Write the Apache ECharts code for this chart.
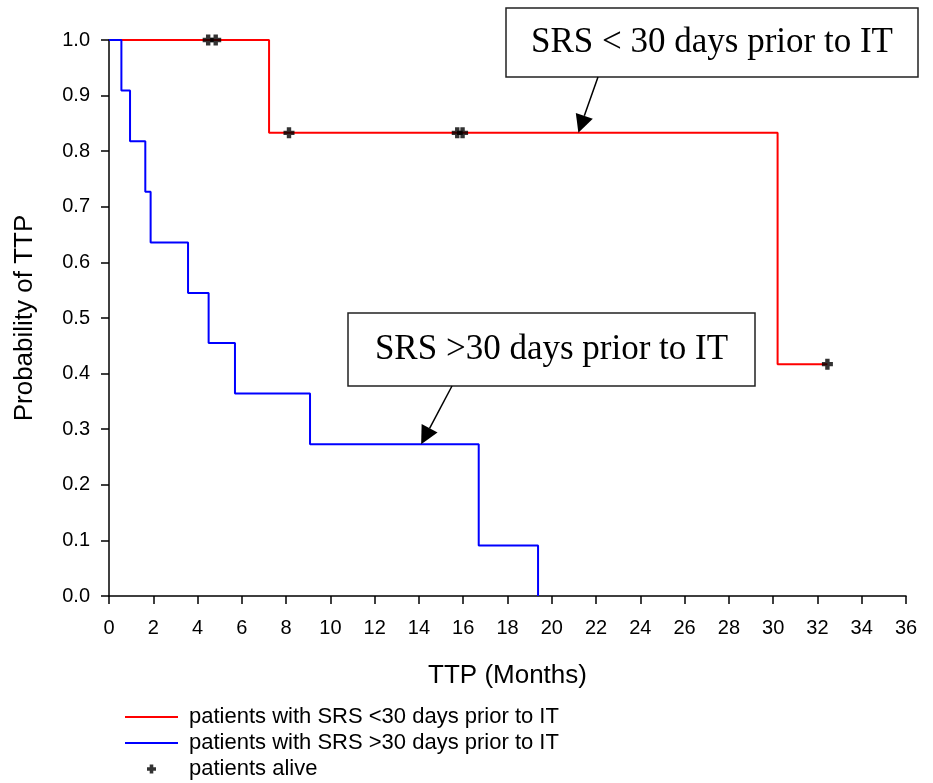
<!DOCTYPE html>
<html>
<head>
<meta charset="utf-8">
<style>
  html, body { margin: 0; padding: 0; background: #fff; }
  #chart { width: 933px; height: 783px; }
</style>
<script src="https://cdn.jsdelivr.net/npm/echarts@6/dist/echarts.min.js"></script>
</head>
<body>
<div id="chart"></div>
<script>
// Kaplan-Meier steps: [month, probability]
const earlySteps = [[0, 1], [7.23, 0.833], [30.2, 0.417], [32.45, 0.417]]
const lateSteps = [
  [0, 1], [0.56, 0.909], [0.95, 0.818], [1.64, 0.727], [1.88, 0.636],
  [3.57, 0.545], [4.5, 0.455], [5.69, 0.364], [9.08, 0.273],
  [16.7, 0.091], [19.38, 0],
]
const aliveMarks = [[4.48, 1], [4.82, 1], [8.13, 0.833], [15.73, 0.833], [15.97, 0.833], [32.45, 0.417]]
const xTicks = { min: 0, max: 36, interval: 2 }
const yTicks = { min: 0, max: 1, interval: 0.1 }
const noteEarly = 'SRS < 30 days prior to IT'
const noteLate = 'SRS >30 days prior to IT'
const noteEarlyTarget = [21.2, 0.833]
const noteLateTarget = [14.1, 0.273]

const FONT = '"Liberation Sans", Arial, sans-serif'
const SERIF = '"Liberation Serif", "Times New Roman", serif'
const plusIcon = 'path://M3,0H7V3H10V7H7V10H3V7H0V3H3Z'

const chart = echarts.init(document.getElementById('chart'))

const axisCommon = {
  axisLine: { show: true, onZero: false, lineStyle: { color: '#000', width: 1.5 } },
  axisTick: { show: true, length: 8, lineStyle: { color: '#000', width: 1.5 } },
  splitLine: { show: false },
  nameTextStyle: { color: '#000', fontFamily: FONT, fontSize: 26 },
}

chart.setOption({
  animation: false,
  backgroundColor: '#fff',
  grid: { left: 109, right: 27, top: 40, bottom: 187, outerBoundsMode: 'none', containLabel: false },
  xAxis: {
    type: 'value',
    ...xTicks,
    ...axisCommon,
    name: 'TTP (Months)',
    nameLocation: 'middle',
    nameGap: 67,
    axisLabel: { color: '#000', fontFamily: FONT, fontSize: 20, margin: 22 },
  },
  yAxis: {
    type: 'value',
    ...yTicks,
    ...axisCommon,
    name: 'Probability of TTP',
    nameLocation: 'middle',
    nameGap: 71,
    axisLabel: {
      color: '#000', fontFamily: FONT, fontSize: 20, margin: 19,
      formatter: (v) => v.toFixed(1),
    },
  },
  legend: {
    orient: 'vertical',
    left: 124,
    top: 704,
    padding: 0,
    itemWidth: 53,
    itemHeight: 9,
    itemGap: 0,
    textStyle: { color: '#000', fontFamily: FONT, fontSize: 22, lineHeight: 26, padding: [0, 0, 0, 6] },
    data: [
      { name: 'patients with SRS <30 days prior to IT', itemStyle: { opacity: 0 } },
      { name: 'patients with SRS >30 days prior to IT', itemStyle: { opacity: 0 } },
      { name: 'patients alive' },
    ],
  },
  series: [
    {
      name: 'patients with SRS <30 days prior to IT',
      type: 'line',
      step: 'end',
      symbol: 'none',
      data: earlySteps,
      lineStyle: { color: '#ff0000', width: 2 },
      itemStyle: { color: '#ff0000' },
      z: 2,
    },
    {
      name: 'patients with SRS >30 days prior to IT',
      type: 'line',
      step: 'end',
      symbol: 'none',
      data: lateSteps,
      lineStyle: { color: '#0000ff', width: 2 },
      itemStyle: { color: '#0000ff' },
      z: 3,
    },
    {
      name: 'patients alive',
      type: 'scatter',
      symbol: plusIcon,
      symbolSize: 11,
      data: aliveMarks,
      itemStyle: { color: '#000' },
      z: 5,
    },
  ],
})

// annotation boxes with arrows pointing at the curves
function arrow(from, to) {
  const dx = to[0] - from[0], dy = to[1] - from[1]
  const len = Math.sqrt(dx * dx + dy * dy)
  const ux = dx / len, uy = dy / len
  const head = 18, half = 9
  const bx = to[0] - ux * head, by = to[1] - uy * head
  return [
    {
      type: 'line',
      shape: { x1: from[0], y1: from[1], x2: bx, y2: by },
      style: { stroke: '#000', lineWidth: 1.5 },
      z: 20,
    },
    {
      type: 'polygon',
      shape: { points: [to, [bx - uy * half, by + ux * half], [bx + uy * half, by - ux * half]] },
      style: { fill: '#000' },
      z: 20,
    },
  ]
}

function noteBox(text, x, y, w, h) {
  return [
    {
      type: 'rect',
      shape: { x, y, width: w, height: h },
      style: { fill: '#fff', stroke: '#222', lineWidth: 1.5 },
      z: 20,
    },
    {
      type: 'text',
      x: x + w / 2,
      y: y + h / 2,
      style: {
        text, fill: '#000', font: '35px ' + SERIF,
        align: 'center', verticalAlign: 'middle',
      },
      z: 21,
    },
  ]
}

const tipEarly = chart.convertToPixel({ gridIndex: 0 }, noteEarlyTarget)
const tipLate = chart.convertToPixel({ gridIndex: 0 }, noteLateTarget)

chart.setOption({
  graphic: [
    ...noteBox(noteEarly, 506, 8, 412, 69),
    ...arrow([598, 77], tipEarly),
    ...noteBox(noteLate, 348, 313, 407, 73),
    ...arrow([452, 386], tipLate),
  ],
})
</script>
</body>
</html>
